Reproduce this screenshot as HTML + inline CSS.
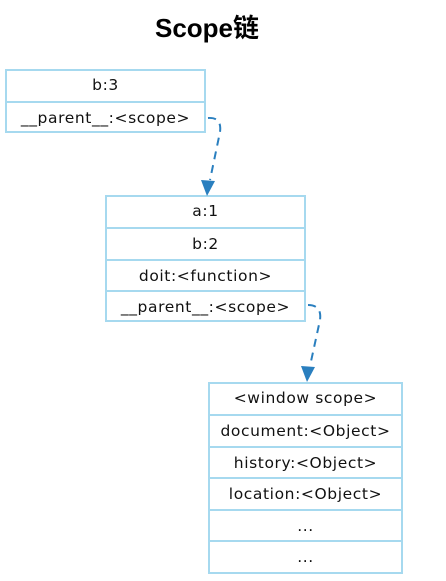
<!DOCTYPE html>
<html><head><meta charset="utf-8"><style>
body{margin:0;width:446px;height:581px;background:#fff;position:relative;font-family:"DejaVu Sans","Liberation Sans",sans-serif;overflow:hidden}
.t{position:absolute;left:0;width:414px;top:8px;text-align:center;font:bold 26px "Liberation Sans","Noto Sans CJK SC",sans-serif;color:#000}
.b{position:absolute;border:2px solid #a6d9ef;box-sizing:border-box}
.r{box-sizing:border-box;height:31.5px;line-height:30px;text-align:center;font-size:15.5px;letter-spacing:0.6px;color:#111;border-top:2px solid #a6d9ef}
.r:first-child{border-top:none;height:30px;line-height:29px}
</style></head><body>
<div class="t">Scope链</div>
<div class="b" style="left:5px;top:69px;width:201px;height:64px">
<div class="r">b:3</div><div class="r">__parent__:&lt;scope&gt;</div></div>
<div class="b" style="left:105px;top:195px;width:201px;height:127px">
<div class="r">a:1</div><div class="r">b:2</div><div class="r">doit:&lt;function&gt;</div><div class="r">__parent__:&lt;scope&gt;</div></div>
<div class="b" style="left:208px;top:382px;width:195px;height:192px">
<div class="r">&lt;window scope&gt;</div><div class="r">document:&lt;Object&gt;</div><div class="r">history:&lt;Object&gt;</div><div class="r">location:&lt;Object&gt;</div><div class="r">...</div><div class="r">...</div></div>
<svg width="446" height="581" style="position:absolute;left:0;top:0">
<g fill="none" stroke="#2a7fbf" stroke-width="2" stroke-dasharray="8,6">
<path d="M208,118 Q222,117 220,132 L210,180"/>
<path d="M308,305 Q322,305 320,320 L310,366"/>
</g>
<polygon points="201,180 215,181 207,196" fill="#2a7fbf"/>
<polygon points="301,366 315,367 307,382" fill="#2a7fbf"/>
</svg>
</body></html>
